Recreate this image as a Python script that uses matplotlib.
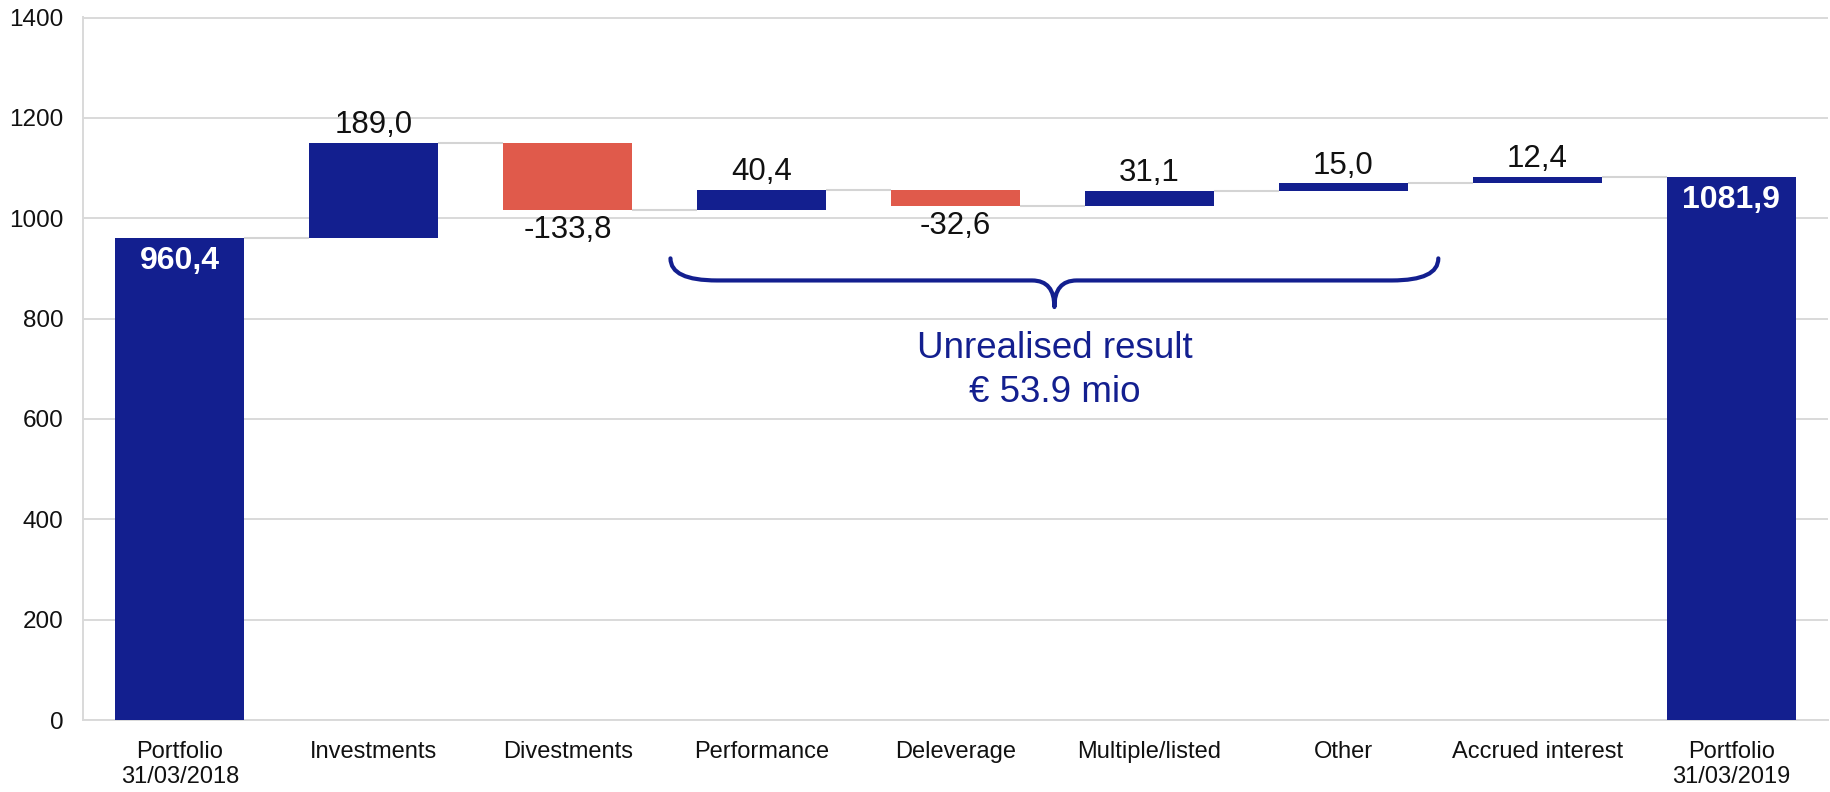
import matplotlib
matplotlib.use('Agg')
import matplotlib.pyplot as plt
from matplotlib.path import Path
from matplotlib.patches import PathPatch

# Portfolio bridge 31/03/2018 -> 31/03/2019 (EUR mio)
categories = ['Portfolio\n31/03/2018', 'Investments', 'Divestments', 'Performance',
              'Deleverage', 'Multiple/listed', 'Other', 'Accrued interest',
              'Portfolio\n31/03/2019']
values = [960.4, 189.0, -133.8, 40.4, -32.6, 31.1, 15.0, 12.4, 1081.9]
is_total = [True, False, False, False, False, False, False, False, True]
y_ticks = [0, 200, 400, 600, 800, 1000, 1200, 1400]

navy = '#131f8f'
red = '#e05a4b'
grid_color = '#d9d9d9'
text_color = '#111111'

plt.rcParams['font.family'] = ['Liberation Sans', 'DejaVu Sans']

fig = plt.figure(figsize=(18.31, 7.92), dpi=100, facecolor='w')
ax = fig.add_axes([0.0453, 0.0909, 0.9531, 0.8876])

# work out bottoms/tops of the floating bars
bottoms, heights, levels = [], [], []
running = 0.0
for v, tot in zip(values, is_total):
    if tot:
        bottoms.append(0.0)
        heights.append(v)
        running = v
    else:
        bottoms.append(min(running, running + v))
        heights.append(abs(v))
        running = running + v
    levels.append(running)

x = list(range(len(categories)))
width = 0.665
colors = [navy if (tot or v >= 0) else red for v, tot in zip(values, is_total)]
ax.bar(x, heights, bottom=bottoms, width=width, color=colors, zorder=3)

# connector lines between bars
for i in range(len(x) - 1):
    ax.plot([x[i] + width / 2, x[i + 1] - width / 2], [levels[i], levels[i]],
            color='#d4d4d4', lw=1.5, zorder=2, solid_capstyle='butt')

# value labels
for i, (v, tot) in enumerate(zip(values, is_total)):
    lbl = '{:.1f}'.format(v).replace('.', ',')
    top = bottoms[i] + heights[i]
    if tot:
        ax.annotate(lbl, (x[i], top), xytext=(0, -6), textcoords='offset points',
                    ha='center', va='top', color='white', fontsize=23,
                    fontweight='bold', zorder=4)
    elif v >= 0:
        ax.annotate(lbl, (x[i], top), xytext=(0, 2), textcoords='offset points',
                    ha='center', va='bottom', color=text_color, fontsize=22.5, zorder=4)
    else:
        ax.annotate(lbl, (x[i], bottoms[i]), xytext=(0, -3), textcoords='offset points',
                    ha='center', va='top', color=text_color, fontsize=22.5, zorder=4)

# curly brace over the unrealised items
x0, x1, xc = 2.53, 6.49, 4.51
y_top, y_mid, y_tip = 920, 876, 823
rx, rc = 0.24, 0.115
verts = [(x0, y_top), (x0, y_mid), (x0 + rx, y_mid),
         (xc - rc, y_mid), (xc, y_mid), (xc, y_tip),
         (xc, y_mid), (xc + rc, y_mid),
         (x1 - rx, y_mid), (x1, y_mid), (x1, y_top)]
codes = [Path.MOVETO, Path.CURVE3, Path.CURVE3,
         Path.LINETO, Path.CURVE3, Path.CURVE3,
         Path.CURVE3, Path.CURVE3,
         Path.LINETO, Path.CURVE3, Path.CURVE3]
brace = PathPatch(Path(verts, codes), fill=False, edgecolor=navy, lw=3,
                  capstyle='round', joinstyle='round', zorder=4)
ax.add_patch(brace)
ax.text(xc, 740, 'Unrealised result', ha='center', va='center', fontsize=26.5, color=navy)
ax.text(xc, 653, '€ 53.9 mio', ha='center', va='center', fontsize=26.5, color=navy)

# axes formatting
ax.set_xlim(-0.5, len(categories) - 0.5)
ax.set_ylim(0, 1401)
ax.set_yticks(y_ticks)
ax.set_xticks(x)
ax.set_xticklabels(categories, fontsize=17, color=text_color, linespacing=1.2)
ax.tick_params(axis='y', length=0, pad=14, labelsize=17.5, labelcolor=text_color)
ax.tick_params(axis='x', length=0, pad=15)
ax.yaxis.grid(True, color=grid_color, lw=1.4, zorder=0)
ax.set_axisbelow(True)
ax.spines['top'].set_visible(False)
ax.spines['right'].set_visible(False)
ax.spines['left'].set_color(grid_color)
ax.spines['bottom'].set_color(grid_color)
ax.spines['left'].set_linewidth(1.4)
ax.spines['bottom'].set_linewidth(1.4)

fig.savefig('out.png', dpi=100)
plt.close()
